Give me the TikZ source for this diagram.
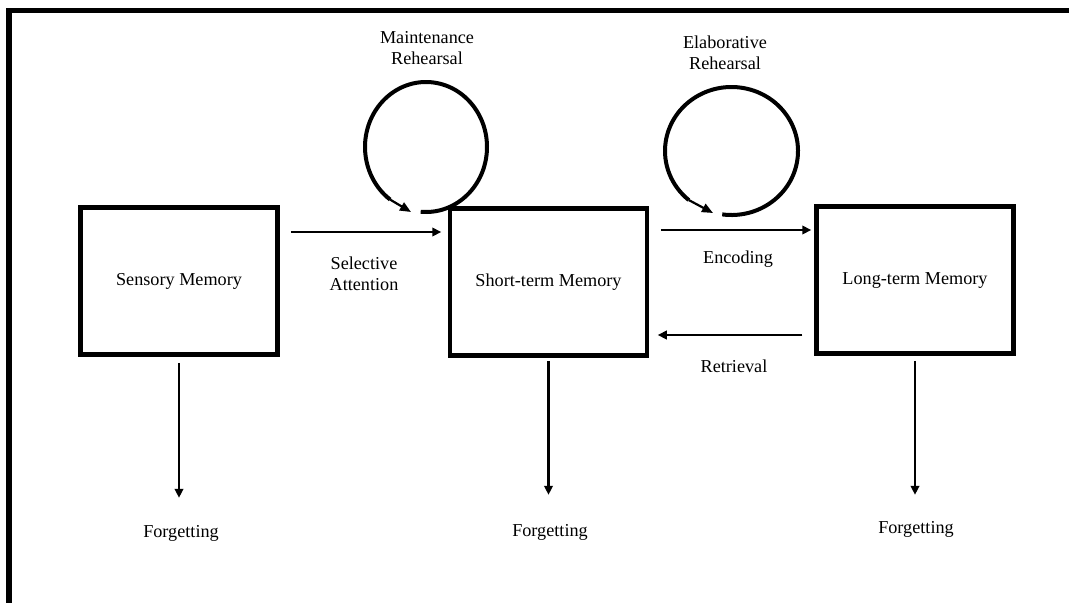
\documentclass[tikz,border=0pt]{standalone}
\usepackage{fontspec}
\setmainfont{Liberation Serif}
\usetikzlibrary{arrows.meta,calc,positioning}

\begin{document}
\begin{tikzpicture}[y=-1pt,x=1pt,
	membox/.style={draw,line width=4.5pt,minimum width=197pt,minimum height=147pt,inner sep=0pt,font=\fontsize{18.2}{21.5}\selectfont},
	lbl/.style={inner sep=0pt,align=center,font=\fontsize{18.2}{21.5}\selectfont},
	arr/.style={line width=2.2pt,-{Triangle[length=9pt,width=8.5pt]}},
	loopline/.style={line width=4pt},
	looparr/.style={line width=2.2pt,-{Triangle[length=11pt,width=9pt]}}]
	\useasboundingbox (0,0) rectangle (1069,603);

	% frame
	\fill (6,8) rectangle (1069,13);
	\fill (6,8) rectangle (12,603);

	\node[membox] (sens) at (179,281) {Sensory Memory};
	\node[membox] (stm) at (548.5,282) {Short-term Memory};
	\node[membox] (ltm) at (915,280) {Long-term Memory};

	\node[lbl] (sel) at (364,274) {Selective\\Attention};
	\node[lbl] (enc) at (738,259) {Encoding};
	\node[lbl] (ret) at (734,366) {Retrieval};
	\node[lbl] (mrh) at (427,48) {Maintenance\\Rehearsal};
	\node[lbl] (erh) at (725,53) {Elaborative\\Rehearsal};

	\node[lbl] (fsens) at (181,533) {Forgetting};
	\node[lbl] (fstm) at (550,532) {Forgetting};
	\node[lbl] (fltm) at (916,529) {Forgetting};

	\draw[arr] ($(sens.east)+(11,-49)$) -- ($(stm.west)+(-6.5,-50)$);
	\draw[arr] ($(stm.east)+(11.5,-52)$) -- ($(ltm.west)+(-3,-50)$);
	\draw[arr] ($(ltm.west)+(-12,55)$) -- ($(stm.east)+(8.5,53)$);

	\draw[arr] ([yshift=-6pt]sens.south) -- ([yshift=27pt]sens.south |- fsens.north);
	\draw[arr] ([yshift=-3pt]stm.south) -- ([yshift=29pt]stm.south |- fstm.north);
	\draw[arr] ([yshift=-5pt]ltm.south) -- ([yshift=26pt]ltm.south |- fltm.north);

	% rehearsal loops
	\coordinate (mc) at (426,147);
	\coordinate (mtip) at (411,212);
	\draw[loopline] ($(mc)+(-95:61pt and 65pt)$) arc[start angle=-95,end angle=234,x radius=61pt,y radius=65pt];
	\draw[looparr] ($(mc)+(234:61pt and 65pt)$) -- (mtip);

	\coordinate (ec) at (731.5,151);
	\coordinate (etip) at (713,213);
	\draw[loopline] ($(ec)+(-98:66.5pt and 64pt)$) arc[start angle=-98,end angle=230,x radius=66.5pt,y radius=64pt];
	\draw[looparr] ($(ec)+(230:66.5pt and 64pt)$) -- (etip);
\end{tikzpicture}
\end{document}
